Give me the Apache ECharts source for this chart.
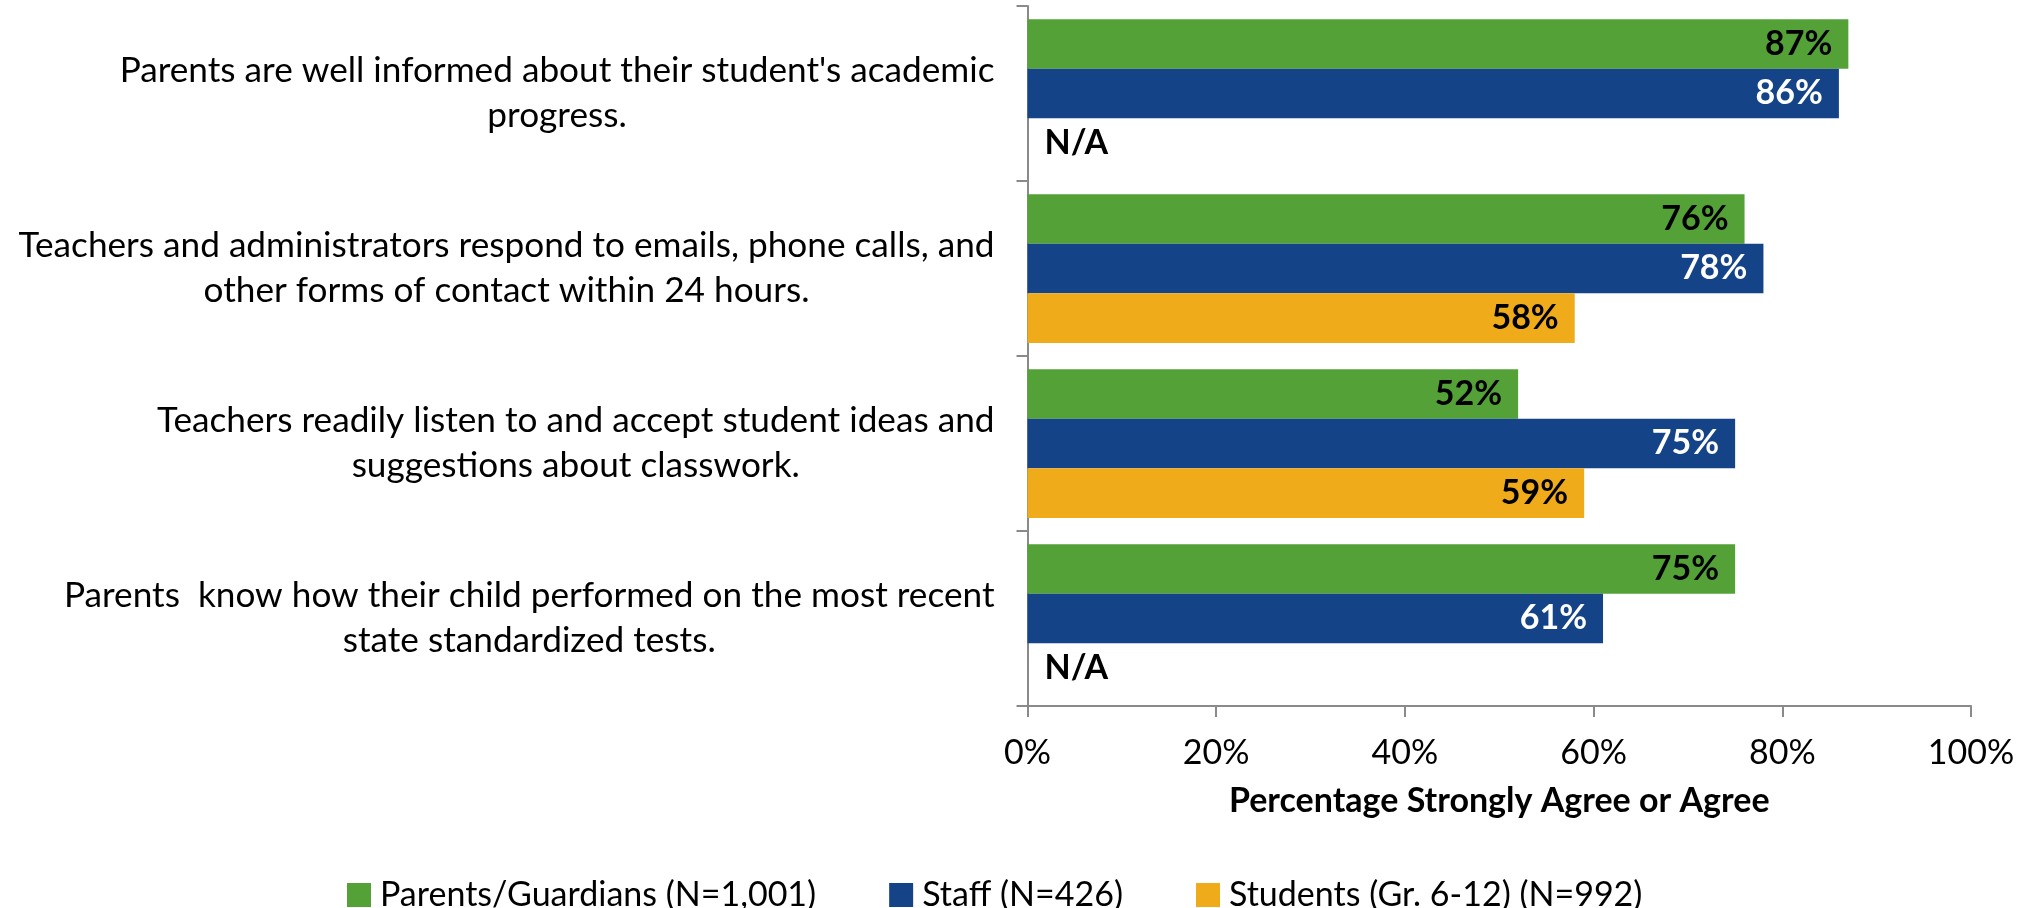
<!DOCTYPE html>
<html>
<head>
<meta charset="utf-8">
<script src="https://cdn.jsdelivr.net/npm/echarts@6/dist/echarts.min.js"></script>
<style>
  html, body { margin: 0; padding: 0; background: #fff; }
  #chart { width: 2030px; height: 908px; }
</style>
</head>
<body>
<div id="chart"></div>
<script>
// Survey statements (top to bottom)
const categories = [
  "Parents are well informed about their student's academic\nprogress.",
  "Teachers and administrators respond to emails, phone calls, and\nother forms of contact within 24 hours.",
  "Teachers readily listen to and accept student ideas and\nsuggestions about classwork.",
  "Parents  know how their child performed on the most recent\nstate standardized tests."
];
const seriesNames = ["Parents/Guardians (N=1,001)", "Staff (N=426)", "Students (Gr. 6-12) (N=992)"];
// Percentage strongly agree or agree; null = question not asked (N/A)
const parentValues = [87, 76, 52, 75];
const staffValues = [86, 78, 75, 61];
const studentValues = [null, 58, 59, null];
const xTicks = [0, 20, 40, 60, 80, 100];

const FONT = 'Lato';
const FS = 34;
const CAT_FS = 35.2;
const colors = ['#53A137', '#144388', '#F0AB1A'];
const labelColors = ['#000', '#fff', '#000'];

function toData(values) {
  return values.map(v => v == null
    ? { value: 0, label: { show: true, formatter: 'N/A', position: 'right', distance: 17, color: '#000' } }
    : v);
}

const allValues = [parentValues, staffValues, studentValues];

const chart = echarts.init(document.getElementById('chart'), null, { renderer: 'canvas' });
chart.setOption({
  backgroundColor: '#fff',
  animation: false,
  textStyle: { fontFamily: FONT },
  grid: { left: 1027.5, right: 59, top: 6, bottom: 202, containLabel: false },
  legend: {
    left: 342, top: 873,
    itemWidth: 24, itemHeight: 24, itemGap: 73,
    icon: 'rect',
    textStyle: { fontFamily: FONT, fontSize: FS, color: '#000', padding: [0, 0, 0, 4] },
    data: seriesNames
  },
  xAxis: {
    type: 'value', min: xTicks[0], max: xTicks[xTicks.length - 1], interval: 20,
    name: 'Percentage Strongly Agree or Agree',
    nameLocation: 'middle', nameGap: 78,
    nameTextStyle: { fontFamily: FONT, fontSize: FS, fontWeight: 'bold', color: '#000' },
    axisLine: { show: true, lineStyle: { color: '#8a8a8a', width: 2 } },
    axisTick: { show: true, length: 11, lineStyle: { color: '#8a8a8a', width: 2 } },
    axisLabel: { formatter: '{value}%', margin: 30, fontFamily: FONT, fontSize: FS, color: '#000' },
    splitLine: { show: false }
  },
  yAxis: {
    type: 'category', inverse: true, data: categories,
    axisLine: { show: true, lineStyle: { color: '#8a8a8a', width: 2 } },
    axisTick: { show: true, length: 11, lineStyle: { color: '#8a8a8a', width: 2 } },
    axisLabel: {
      margin: 33, fontFamily: FONT, fontSize: CAT_FS, color: '#000', align: 'right',
      formatter: v => v.split('\n').map(l => '{c|' + l + '}').join('\n'),
      rich: { c: { align: 'center', fontFamily: FONT, fontSize: CAT_FS, lineHeight: 45, color: '#000' } }
    }
  },
  series: allValues.map((vals, i) => ({
    name: seriesNames[i],
    type: 'bar',
    barGap: 0,
    barCategoryGap: '15%',
    itemStyle: { color: colors[i] },
    label: {
      show: true, position: 'insideRight', distance: 16,
      formatter: '{c}%', fontFamily: FONT, fontSize: FS, fontWeight: 'bold', color: labelColors[i]
    },
    data: toData(vals)
  }))
});
</script>
</body>
</html>
